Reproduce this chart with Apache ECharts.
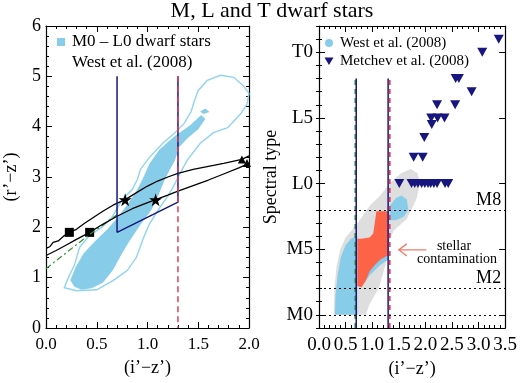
<!DOCTYPE html>
<html>
<head>
<meta charset="utf-8">
<script src="https://cdn.jsdelivr.net/npm/echarts@6/dist/echarts.min.js"></script>
<style>
  html, body { margin: 0; padding: 0; background: #fff; }
  #chart { width: 520px; height: 383px; }
</style>
</head>
<body>
<div id="chart"></div>
<script>
// ---- left panel: (r'-z') vs (i'-z') ----
var outerContour = [[0.18,0.8],[0.22,1.0],[0.28,1.25],[0.33,1.6],[0.42,1.82],[0.55,2.0],[0.65,2.2],[0.75,2.55],[0.85,2.75],[0.9,2.95],[0.93,3.15],[1.02,3.39],[1.15,3.67],[1.26,3.86],[1.36,4.06],[1.43,4.3],[1.46,4.5],[1.5,4.72],[1.59,4.92],[1.72,5.02],[1.85,4.98],[1.95,4.8],[2.0,4.66],[1.98,4.45],[1.92,4.26],[1.79,3.98],[1.65,3.88],[1.52,3.67],[1.39,3.33],[1.32,3.07],[1.25,2.79],[1.19,2.59],[1.12,2.39],[1.02,2.07],[0.96,1.79],[0.89,1.4],[0.8,1.14],[0.66,0.94],[0.5,0.76],[0.3,0.74]];
var innerFill = [[0.24,0.95],[0.28,0.82],[0.35,0.76],[0.45,0.79],[0.56,0.9],[0.66,1.15],[0.74,1.45],[0.82,1.72],[0.93,2.05],[1.04,2.35],[1.1,2.6],[1.16,2.9],[1.2,3.07],[1.27,3.33],[1.31,3.59],[1.4,3.78],[1.5,3.95],[1.57,4.15],[1.53,4.23],[1.42,4.03],[1.26,3.8],[1.12,3.55],[1.02,3.27],[0.95,2.95],[0.88,2.68],[0.8,2.45],[0.7,2.18],[0.6,1.95],[0.48,1.72],[0.37,1.48],[0.29,1.2]];
var speck = [[1.52,4.3],[1.57,4.36],[1.61,4.29],[1.55,4.25]];
var upperCurve = [[0,1.58],[0.04,1.62],[0.07,1.7],[0.12,1.73],[0.17,1.82],[0.23,1.9],[0.3,1.96],[0.38,2.08],[0.47,2.2],[0.56,2.32],[0.66,2.44],[0.78,2.55],[0.9,2.7],[1.0,2.82],[1.1,2.92],[1.2,3.0],[1.3,3.07],[1.45,3.15],[1.6,3.21],[1.75,3.27],[1.93,3.35],[2.0,3.42]];
var lowerCurve = [[0,1.44],[0.1,1.54],[0.2,1.65],[0.3,1.76],[0.43,1.9],[0.55,2.05],[0.7,2.22],[0.85,2.37],[0.95,2.45],[1.08,2.55],[1.2,2.64],[1.3,2.72],[1.45,2.83],[1.6,2.94],[1.75,3.06],[1.9,3.18],[2.0,3.27]];
var greenLine = [[0,1.18],[0.43,1.86],[0.7,2.25]];
var squares = [[0.23,1.9],[0.43,1.9]];
var stars = [[0.78,2.55],[1.08,2.55]];
var endTriangles = [[1.93,3.35],[1.98,3.28]];
var navyBox = [[0.7,5.0],[0.7,1.9],[1.3,2.5],[1.3,5.0]];
var redCut = [[1.3,5.0],[1.3,0]];

// ---- right panel: spectral type vs (i'-z') ----
var grayRegion = [[0.28,0],[0.29,2],[0.33,3.7],[0.4,5],[0.5,5.9],[0.65,6.6],[0.78,7.3],[0.95,8.3],[1.15,9.1],[1.35,10.1],[1.55,10.8],[1.72,11.1],[1.85,10.8],[1.9,10.0],[1.83,8.8],[1.65,7.3],[1.4,6.4],[1.3,5.4],[1.25,3.8],[1.12,2.0],[0.95,0.8],[0.88,0]];
var blueLeft = [[0.3,0],[0.31,1.5],[0.35,3.0],[0.41,4.4],[0.5,5.3],[0.6,5.8],[0.72,6.0],[0.72,0]];
var blueSliver = [[0.85,2.4],[0.95,3.0],[1.05,3.4],[1.15,3.8],[1.3,4.2],[1.3,4.7],[1.0,4.2],[0.88,3.3]];
var blueUpper = [[1.33,7.2],[1.33,8.3],[1.45,8.9],[1.55,9.1],[1.65,8.8],[1.68,8.0],[1.6,7.5],[1.45,7.2]];
var redRegion = [[0.72,2.2],[0.8,2.1],[0.88,2.6],[0.95,3.3],[1.05,3.8],[1.15,4.2],[1.28,4.5],[1.3,4.5],[1.3,7.9],[1.08,7.9],[1.02,6.2],[0.95,5.9],[0.8,5.8],[0.72,5.8]];
var metchevX = [3.38,3.07,2.57,2.63,2.87,2.22,2.56,2.11,2.23,2.36,2.12,1.98,1.78,1.95,1.51,1.74,1.8,1.86,1.93,1.99,2.05,2.1,2.16,2.22,2.37,2.43];
var metchevY = [21,20,18,18,17,16,16,15,15,15,14.5,13.5,12,12,10,10,10,10,10,10,10,10,10,10,10,10];
var cutLeft = [[0.7,-1],[0.7,18]];
var cutLeftGreen = [[0.68,-1],[0.68,18]];
var cutRight = [[1.3,-1],[1.3,18]];
var cutRightRed = [[1.33,-1],[1.33,18]];
var refTypes = [{v: 0, name: ''}, {v: 2, name: 'M2'}, {v: 8, name: 'M8'}];
var arrowPts = [[2.02,4.95],[1.5,4.95]];
var specTicks = [0, 5, 10, 15, 20];
var specLabels = {0: 'M0', 5: 'M5', 10: 'L0', 15: 'L5', 20: 'T0'};

var SERIF = '"Liberation Serif", "DejaVu Serif", serif';
var SKY = '#87cdea';
var NAVY = '#16167e';
var STAR = 'path://M50,0 L61,35 L98,35 L68,57 L79,91 L50,70 L21,91 L32,57 L2,35 L39,35 Z';

var minorSpec = [];
for (var i = -1; i <= 22; i++) minorSpec.push(i);

function polygon(points, style, xi, yi) {
  return {
    type: 'custom', xAxisIndex: xi, yAxisIndex: yi, silent: true,
    data: points, encode: {x: 0, y: 1},
    renderItem: function (params, api) {
      if (params.dataIndex !== 0) return null;
      var pts = points.map(function (p) { return api.coord(p); });
      return {type: 'polygon', shape: {points: pts}, style: style};
    }
  };
}

function line(points, color, width, type, xi, yi) {
  return {
    type: 'line', xAxisIndex: xi, yAxisIndex: yi, data: points, symbol: 'none',
    silent: true, animation: false,
    lineStyle: {color: color, width: width, type: type}
  };
}

function xAx(grid, pos, max, showLabel, name, fs) {
  return {
    type: 'value', gridIndex: grid, position: pos, min: 0, max: max, interval: 0.5,
    name: name, nameLocation: 'middle', nameGap: 31,
    nameTextStyle: {fontFamily: SERIF, fontSize: 18, color: '#000'},
    axisLine: {show: true, onZero: false, lineStyle: {color: '#000', width: 1.2}},
    axisTick: {show: true, inside: true, length: 6, lineStyle: {color: '#000'}},
    minorTick: {show: true, splitNumber: 5, length: 3, lineStyle: {color: '#000'}},
    axisLabel: {show: showLabel, margin: 8, fontFamily: SERIF, fontSize: fs, color: '#000',
      formatter: function (v) { return v.toFixed(1); }},
    splitLine: {show: false}, minorSplitLine: {show: false}
  };
}

var chart = echarts.init(document.getElementById('chart'), null, {renderer: 'canvas'});

var option = {
  animation: false,
  backgroundColor: '#fff',
  grid: [
    {left: 46, top: 26, width: 203, height: 302},
    {left: 319, top: 26, width: 188, height: 302}
  ],
  xAxis: [
    xAx(0, 'bottom', 2, true, '(i\u2019\u2212z\u2019)', 17),
    xAx(0, 'top', 2, false, '', 17),
    xAx(1, 'bottom', 3.5, true, '(i\u2019\u2212z\u2019)', 19),
    xAx(1, 'top', 3.5, false, '', 19)
  ],
  yAxis: [
    {
      type: 'value', gridIndex: 0, position: 'left', min: 0, max: 6, interval: 1,
      name: '(r\u2019\u2212z\u2019)', nameLocation: 'middle', nameGap: 26,
      nameTextStyle: {fontFamily: SERIF, fontSize: 18, color: '#000'},
      axisLine: {show: true, onZero: false, lineStyle: {color: '#000', width: 1.2}},
      axisTick: {show: true, inside: true, length: 6, lineStyle: {color: '#000'}},
      minorTick: {show: true, splitNumber: 5, length: 3, lineStyle: {color: '#000'}},
      axisLabel: {margin: 5, fontFamily: SERIF, fontSize: 18, color: '#000'},
      splitLine: {show: false}
    },
    {
      type: 'value', gridIndex: 0, position: 'right', min: 0, max: 6, interval: 1,
      axisLine: {show: true, onZero: false, lineStyle: {color: '#000', width: 1.2}},
      axisTick: {show: true, inside: true, length: 6, lineStyle: {color: '#000'}},
      minorTick: {show: true, splitNumber: 5, length: 3, lineStyle: {color: '#000'}},
      axisLabel: {show: false}, splitLine: {show: false}
    },
    {
      type: 'value', gridIndex: 1, position: 'left', min: -1, max: 22,
      name: 'Spectral type', nameLocation: 'middle', nameGap: 39,
      nameTextStyle: {fontFamily: SERIF, fontSize: 18, color: '#000'},
      axisLine: {show: true, onZero: false, lineStyle: {color: '#000', width: 1.2}},
      axisTick: {show: true, inside: true, length: 6, customValues: specTicks, lineStyle: {color: '#000'}},
      axisLabel: {margin: 6, fontFamily: SERIF, fontSize: 19, color: '#000', customValues: specTicks,
        formatter: function (v) { return specLabels[v] || ''; }},
      splitLine: {show: false}
    },
    {
      type: 'value', gridIndex: 1, position: 'right', min: -1, max: 22,
      axisLine: {show: true, onZero: false, lineStyle: {color: '#000', width: 1.2}},
      axisTick: {show: true, inside: true, length: 6, customValues: specTicks, lineStyle: {color: '#000'}},
      axisLabel: {show: false}, splitLine: {show: false}
    },
    {
      type: 'value', gridIndex: 1, position: 'left', min: -1, max: 22,
      axisLine: {show: false},
      axisTick: {show: true, inside: true, length: 3, customValues: minorSpec, lineStyle: {color: '#000'}},
      axisLabel: {show: false}, splitLine: {show: false}
    },
    {
      type: 'value', gridIndex: 1, position: 'right', min: -1, max: 22,
      axisLine: {show: false},
      axisTick: {show: true, inside: true, length: 3, customValues: minorSpec, lineStyle: {color: '#000'}},
      axisLabel: {show: false}, splitLine: {show: false}
    }
  ],
  graphic: [
    {type: 'text', style: {text: 'M, L and T dwarf stars', x: 272, y: 11,
      font: '22px ' + SERIF, fill: '#000', textAlign: 'center', textVerticalAlign: 'middle'}},
    {type: 'rect', shape: {x: 57, y: 38, width: 8, height: 8}, style: {fill: SKY}},
    {type: 'text', style: {text: 'M0 \u2013 L0 dwarf stars', x: 72, y: 42, font: '17px ' + SERIF, fill: '#000', textVerticalAlign: 'middle'}},
    {type: 'text', style: {text: 'West et al. (2008)', x: 72, y: 63, font: '17px ' + SERIF, fill: '#000', textVerticalAlign: 'middle'}},
    {type: 'circle', shape: {cx: 329, cy: 43, r: 4}, style: {fill: SKY}},
    {type: 'polygon', shape: {points: [[324.5, 57.5], [333.5, 57.5], [329, 65]]}, style: {fill: NAVY}},
    {type: 'text', style: {text: 'West et al. (2008)', x: 340, y: 43, font: '15px ' + SERIF, fill: '#000', textVerticalAlign: 'middle'}},
    {type: 'text', style: {text: 'Metchev et al. (2008)', x: 340, y: 61, font: '15px ' + SERIF, fill: '#000', textVerticalAlign: 'middle'}},
    {type: 'text', style: {text: 'stellar', x: 454, y: 246, font: '14px ' + SERIF, fill: '#000', textAlign: 'center', textVerticalAlign: 'middle'}},
    {type: 'text', style: {text: 'contamination', x: 457, y: 259, font: '14px ' + SERIF, fill: '#000', textAlign: 'center', textVerticalAlign: 'middle'}}
  ],
  series: [
    // left panel
    polygon(outerContour, {fill: 'none', stroke: '#8fd4ef', lineWidth: 1.4}, 0, 0),
    polygon(innerFill, {fill: SKY}, 0, 0),
    polygon(speck, {fill: SKY}, 0, 0),
    line(greenLine, '#2f8f2f', 1.2, [6, 3, 2, 3], 0, 0),
    line(upperCurve, '#000', 1.3, 'solid', 0, 0),
    line(lowerCurve, '#000', 1.3, 'solid', 0, 0),
    line(navyBox, NAVY, 1.5, 'solid', 0, 0),
    line(redCut, '#e04058', 1.5, [6, 4], 0, 0),
    {type: 'scatter', xAxisIndex: 0, yAxisIndex: 0, data: squares, symbol: 'rect', symbolSize: 9,
      itemStyle: {color: '#000', opacity: 1}, silent: true},
    {type: 'scatter', xAxisIndex: 0, yAxisIndex: 0, data: stars, symbol: STAR, symbolSize: 13,
      itemStyle: {color: '#000', opacity: 1}, silent: true},
    {type: 'scatter', xAxisIndex: 0, yAxisIndex: 0, data: endTriangles, symbol: 'triangle', symbolSize: 8,
      itemStyle: {color: '#000', opacity: 1}, silent: true},
    // right panel
    polygon(grayRegion, {fill: '#dedede'}, 2, 2),
    polygon(blueLeft, {fill: SKY}, 2, 2),
    polygon(blueSliver, {fill: SKY}, 2, 2),
    polygon(blueUpper, {fill: SKY}, 2, 2),
    polygon(redRegion, {fill: '#fd6447'}, 2, 2),
    {
      type: 'line', xAxisIndex: 2, yAxisIndex: 2, data: [], silent: true,
      markLine: {
        silent: true, symbol: 'none', animation: false,
        lineStyle: {color: '#000', type: [2, 3], width: 1},
        label: {position: 'insideEndTop', formatter: '{b}', fontFamily: SERIF, fontSize: 18, color: '#000', distance: [4, 1]},
        data: refTypes.map(function (r) { return {yAxis: r.v, name: r.name}; })
      }
    },
    line(cutLeftGreen, '#3a9a3a', 1.5, [5, 4], 2, 2),
    line(cutLeft, NAVY, 1.5, 'solid', 2, 2),
    line(cutRight, NAVY, 1.5, 'solid', 2, 2),
    line(cutRightRed, '#e04058', 1.8, [5, 4], 2, 2),
    {
      type: 'scatter', xAxisIndex: 2, yAxisIndex: 2, silent: true,
      data: metchevX.map(function (x, k) { return [x, metchevY[k]]; }),
      symbol: 'triangle', symbolRotate: 180, symbolSize: [10, 9],
      itemStyle: {color: NAVY, opacity: 1}
    },
    {
      type: 'custom', xAxisIndex: 2, yAxisIndex: 2, silent: true, data: arrowPts, encode: {x: 0, y: 1},
      renderItem: function (params, api) {
        if (params.dataIndex !== 0) return null;
        var a = api.coord(arrowPts[0]), b = api.coord(arrowPts[1]);
        return {type: 'group', children: [
          {type: 'line', shape: {x1: a[0], y1: a[1], x2: b[0], y2: b[1]}, style: {stroke: '#f08070', lineWidth: 1.3}},
          {type: 'polyline', shape: {points: [[b[0] + 8, b[1] - 6], b, [b[0] + 8, b[1] + 6]]}, style: {stroke: '#f08070', lineWidth: 1.3, fill: 'none'}}
        ]};
      }
    }
  ]
};

chart.setOption(option);
</script>
</body>
</html>
